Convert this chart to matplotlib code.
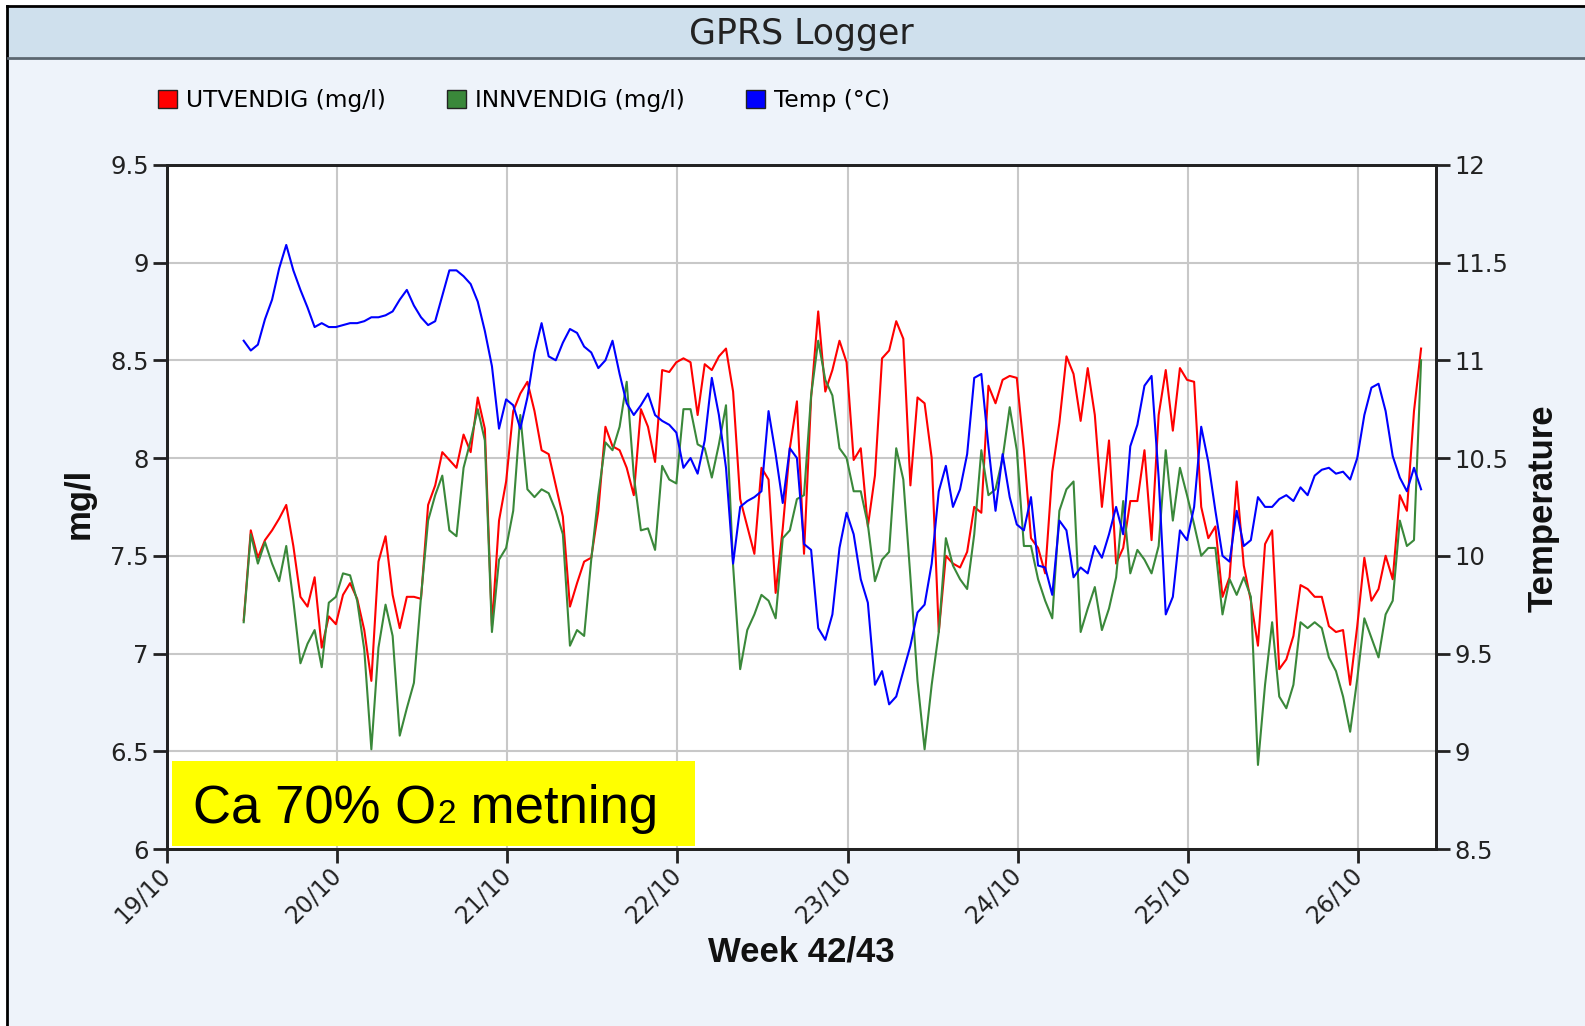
import matplotlib.pyplot as plt
import numpy as np
from matplotlib.patches import Rectangle, Patch
from matplotlib.lines import Line2D
from matplotlib.text import Annotation

# hourly logger readings, first reading 19/10 ~10:50
start_hour = 10.84

utvendig = [
    7.17, 7.63, 7.49, 7.58, 7.63, 7.69, 7.76, 7.55, 7.29, 7.24,
    7.39, 7.03, 7.19, 7.15, 7.30, 7.36, 7.28, 7.12, 6.86, 7.47,
    7.60, 7.30, 7.13, 7.29, 7.29, 7.28, 7.76, 7.86, 8.03, 7.99,
    7.95, 8.12, 8.03, 8.31, 8.15, 7.14, 7.68, 7.88, 8.24, 8.33,
    8.39, 8.24, 8.04, 8.02, 7.86, 7.70, 7.24, 7.36, 7.47, 7.49,
    7.73, 8.16, 8.06, 8.04, 7.95, 7.81, 8.25, 8.16, 7.98, 8.45,
    8.44, 8.49, 8.51, 8.49, 8.22, 8.48, 8.45, 8.52, 8.56, 8.34,
    7.79, 7.65, 7.51, 7.95, 7.89, 7.31, 7.64, 8.05, 8.29, 7.51,
    8.31, 8.75, 8.34, 8.45, 8.60, 8.49, 7.99, 8.05, 7.65, 7.91,
    8.51, 8.55, 8.70, 8.61, 7.86, 8.31, 8.28, 8.00, 7.11, 7.50,
    7.46, 7.44, 7.52, 7.75, 7.72, 8.37, 8.28, 8.40, 8.42, 8.41,
    8.04, 7.59, 7.54, 7.41, 7.93, 8.18, 8.52, 8.43, 8.19, 8.46,
    8.22, 7.75, 8.09, 7.46, 7.54, 7.78, 7.78, 8.04, 7.58, 8.22,
    8.45, 8.14, 8.46, 8.40, 8.39, 7.75, 7.59, 7.65, 7.29, 7.39,
    7.88, 7.45, 7.27, 7.04, 7.56, 7.63, 6.92, 6.97, 7.09, 7.35,
    7.33, 7.29, 7.29, 7.14, 7.11, 7.12, 6.84, 7.14, 7.49, 7.27,
    7.33, 7.50, 7.38, 7.81, 7.73, 8.24, 8.56,
]

innvendig = [
    7.16, 7.61, 7.46, 7.57, 7.46, 7.37, 7.55, 7.27, 6.95, 7.05,
    7.12, 6.93, 7.26, 7.29, 7.41, 7.40, 7.27, 7.02, 6.51, 7.03,
    7.25, 7.09, 6.58, 6.72, 6.85, 7.29, 7.68, 7.81, 7.91, 7.63,
    7.60, 7.95, 8.09, 8.25, 8.09, 7.11, 7.48, 7.54, 7.73, 8.22,
    7.84, 7.80, 7.84, 7.82, 7.73, 7.61, 7.04, 7.12, 7.09, 7.48,
    7.81, 8.08, 8.04, 8.16, 8.39, 7.91, 7.63, 7.64, 7.53, 7.96,
    7.89, 7.87, 8.25, 8.25, 8.07, 8.05, 7.90, 8.07, 8.27, 7.45,
    6.92, 7.12, 7.20, 7.30, 7.27, 7.18, 7.59, 7.63, 7.79, 7.81,
    8.32, 8.60, 8.40, 8.32, 8.05, 8.00, 7.83, 7.83, 7.66, 7.37,
    7.48, 7.52, 8.05, 7.89, 7.39, 6.86, 6.51, 6.84, 7.11, 7.59,
    7.45, 7.38, 7.33, 7.61, 8.04, 7.81, 7.84, 8.00, 8.26, 8.04,
    7.55, 7.55, 7.38, 7.27, 7.18, 7.73, 7.84, 7.88, 7.11, 7.23,
    7.34, 7.12, 7.23, 7.39, 7.78, 7.41, 7.53, 7.48, 7.41, 7.55,
    8.04, 7.68, 7.95, 7.81, 7.66, 7.50, 7.54, 7.54, 7.20, 7.38,
    7.30, 7.39, 7.29, 6.43, 6.84, 7.16, 6.78, 6.72, 6.84, 7.16,
    7.13, 7.16, 7.13, 6.98, 6.91, 6.78, 6.60, 6.87, 7.18, 7.08,
    6.98, 7.20, 7.27, 7.68, 7.55, 7.58, 8.50,
]

temp = [
    11.10, 11.05, 11.08, 11.21, 11.31, 11.47, 11.59, 11.46, 11.36, 11.27,
    11.17, 11.19, 11.17, 11.17, 11.18, 11.19, 11.19, 11.20, 11.22, 11.22,
    11.23, 11.25, 11.31, 11.36, 11.28, 11.22, 11.18, 11.20, 11.33, 11.46,
    11.46, 11.43, 11.39, 11.30, 11.15, 10.97, 10.65, 10.80, 10.77, 10.65,
    10.81, 11.04, 11.19, 11.02, 11.00, 11.09, 11.16, 11.14, 11.07, 11.04,
    10.96, 11.00, 11.10, 10.93, 10.78, 10.72, 10.77, 10.83, 10.72, 10.69,
    10.67, 10.63, 10.45, 10.50, 10.42, 10.59, 10.91, 10.72, 10.45, 9.96,
    10.25, 10.28, 10.30, 10.33, 10.74, 10.52, 10.27, 10.55, 10.50, 10.06,
    10.03, 9.63, 9.57, 9.70, 10.04, 10.22, 10.11, 9.88, 9.76, 9.34,
    9.41, 9.24, 9.28, 9.41, 9.54, 9.71, 9.75, 9.96, 10.33, 10.46,
    10.25, 10.34, 10.52, 10.91, 10.93, 10.56, 10.23, 10.52, 10.30, 10.16,
    10.13, 10.30, 9.95, 9.94, 9.80, 10.18, 10.13, 9.89, 9.94, 9.91,
    10.05, 9.99, 10.11, 10.25, 10.11, 10.56, 10.67, 10.87, 10.92, 10.40,
    9.70, 9.79, 10.13, 10.08, 10.25, 10.66, 10.48, 10.23, 10.00, 9.97,
    10.23, 10.05, 10.08, 10.30, 10.25, 10.25, 10.29, 10.31, 10.28, 10.35,
    10.31, 10.41, 10.44, 10.45, 10.42, 10.43, 10.39, 10.50, 10.72, 10.86,
    10.88, 10.74, 10.51, 10.40, 10.33, 10.45, 10.34,
]

day_ticks = [19, 20, 21, 22, 23, 24, 25, 26]
day_labels = ['19/10', '20/10', '21/10', '22/10', '23/10', '24/10', '25/10', '26/10']
series_names = ['UTVENDIG (mg/l)', 'INNVENDIG (mg/l)', 'Temp (°C)']

hours = start_hour + np.arange(len(utvendig))
days = 19 + hours / 24.0

W, H = 1585, 1026
def fx(px):
    return px / W
def fy(py):
    return 1 - py / H

fig = plt.figure(figsize=(W / 100, H / 100), dpi=100, facecolor='white')

# panel background, frame and title bar
fig.patches.append(Rectangle((fx(8), 0), 1 - fx(8), fy(7), transform=fig.transFigure,
                             facecolor='#EEF3FA', edgecolor='none', zorder=-10))
fig.patches.append(Rectangle((fx(8), fy(57)), 1 - fx(8), fy(8) - fy(57), transform=fig.transFigure,
                             facecolor='#CFE0ED', edgecolor='none', zorder=-9))
fig.add_artist(Line2D([fx(7), fx(7)], [0, fy(6)], color='black', lw=2))
fig.add_artist(Line2D([fx(7), 1], [fy(6), fy(6)], color='black', lw=2))
fig.add_artist(Line2D([fx(8), 1], [fy(57.5), fy(57.5)], color='#5A6670', lw=2))
fig.text(fx(801), fy(34), 'GPRS Logger', ha='center', va='center', fontsize=25, color='#222222')

ax = fig.add_axes([0.10524, 0.17251, 0.80101, 0.66687])
ax2 = ax.twinx()

ax.plot(days, utvendig, color='#FF0000', lw=1.5)
ax.plot(days, innvendig, color='#3A883A', lw=1.5)
ax2.plot(days, temp, color='#0000FF', lw=1.5)

ax.set_xlim(19, 26 + 11 / 24)
ax.set_ylim(6, 9.5)
ax2.set_ylim(8.5, 12)

ax.set_yticks(np.arange(6, 9.51, 0.5))
ax.set_yticklabels(['%g' % v for v in np.arange(6, 9.51, 0.5)])
ax2.set_yticks(np.arange(8.5, 12.01, 0.5))
ax2.set_yticklabels(['%g' % v for v in np.arange(8.5, 12.01, 0.5)])
ax.set_xticks(day_ticks)
ax.set_xticklabels(day_labels, rotation=45, ha='right', va='center', rotation_mode='anchor')

ax.grid(True, color='#C8C8C8', lw=1.5)
ax.set_facecolor('white')
for a in (ax, ax2):
    a.tick_params(length=10, width=2, color='#222222', labelcolor='#222222', labelsize=17.5, pad=3)
    for s in a.spines.values():
        s.set_linewidth(2)
        s.set_color('#222222')
ax.tick_params(axis='x', labelsize=17, pad=6)

# axis titles
fig.text(fx(801), fy(952), 'Week 42/43', ha='center', va='center', fontsize=25,
         fontweight='bold', family='Liberation Sans', color='#111111')
fig.text(fx(79), fy(503), 'mg/l', ha='center', va='center', rotation=90, fontsize=25,
         fontweight='bold', family='Liberation Sans', color='#111111')
fig.text(fx(1543), fy(508), 'Temperature', ha='center', va='center', rotation=90, fontsize=25,
         fontweight='bold', family='Liberation Sans', color='#111111')

# legend
handles = [Patch(facecolor='#FF0000', edgecolor='#222222'),
           Patch(facecolor='#3A883A', edgecolor='#222222'),
           Patch(facecolor='#0000FF', edgecolor='#222222')]
fig.legend(handles, series_names, loc='center left', bbox_to_anchor=(fx(158), fy(101)),
           ncol=3, frameon=False, fontsize=16.8, handlelength=0.82, handleheight=0.82,
           handletextpad=0.4, columnspacing=2.6, borderaxespad=0, borderpad=0)

# yellow note
fig.patches.append(Rectangle((fx(172.4), fy(845.7)), fx(695.4) - fx(172.4), fy(761) - fy(845.7),
                             transform=fig.transFigure, facecolor='#FFFF00', edgecolor='none', zorder=2))
t1 = fig.text(fx(193), fy(823), 'Ca 70% O', fontsize=38, family='Liberation Sans',
              va='baseline', ha='left', zorder=5)
t2 = Annotation('2', xy=(1, 0), xycoords=t1, xytext=(1, 3), textcoords='offset points',
                va='bottom', ha='left', fontsize=24, family='Liberation Sans', zorder=5)
fig.add_artist(t2)
t3 = Annotation(' metning', xy=(1, 0), xycoords=(t2, t1), va='bottom', ha='left',
                fontsize=38, family='Liberation Sans', zorder=5)
fig.add_artist(t3)

fig.savefig('out.png', dpi=100)
